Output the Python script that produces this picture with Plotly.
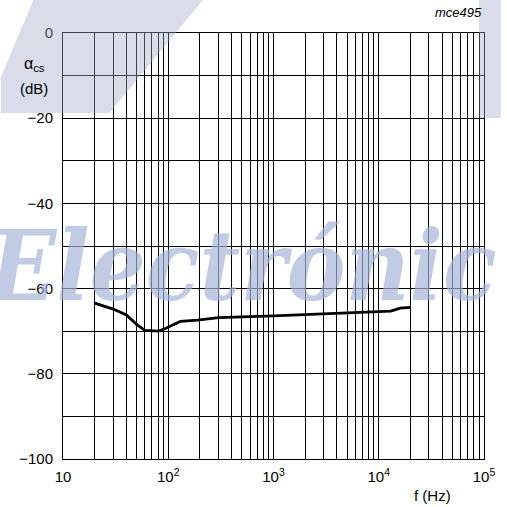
import plotly.graph_objects as go

# Data
freq_hz = [20, 30, 40, 50, 60, 80, 95, 130, 190, 300, 1000, 2000, 5000, 10000, 13000, 16000, 20000]
alpha_cs_db = [-63.4, -64.8, -66.2, -68.4, -69.8, -70.0, -69.3, -67.7, -67.4, -66.8,
               -66.4, -66.1, -65.8, -65.5, -65.3, -64.6, -64.4]

x_tick_vals = [10, 100, 1000, 10000, 100000]
x_tick_text = ["10", "10<sup>2</sup>", "10<sup>3</sup>", "10<sup>4</sup>", "10<sup>5</sup>"]
x_minor_vals = [k * 10 ** d for d in range(1, 5) for k in range(2, 10)]
y_tick_vals = [0, -20, -40, -60, -80, -100]
y_tick_text = ["0", "\u221220", "\u221240", "\u221260", "\u221280", "\u2212100"]

FONT = "Liberation Sans, Arial, sans-serif"

fig = go.Figure()
fig.add_trace(go.Scatter(
    x=freq_hz, y=alpha_cs_db, mode="lines",
    line=dict(color="black", width=2.8),
    showlegend=False, hoverinfo="skip",
))

fig.update_layout(
    width=507, height=507,
    margin=dict(l=63, r=17, t=33, b=48),
    paper_bgcolor="white", plot_bgcolor="white",
    font=dict(family=FONT, size=15, color="black"),
    xaxis=dict(
        type="log", range=[1, 5],
        tickmode="array", tickvals=x_tick_vals, ticktext=x_tick_text,
        showgrid=True, gridcolor="black", gridwidth=1,
        minor=dict(tickmode="array", tickvals=x_minor_vals, showgrid=True,
                   gridcolor="black", gridwidth=1, ticks=""),
        ticks="", showline=True, linecolor="black", linewidth=1, mirror=True,
        zeroline=False, tickfont=dict(size=15), ticklabelstandoff=4,
    ),
    yaxis=dict(
        range=[-100, 0], tickmode="array", tickvals=y_tick_vals, ticktext=y_tick_text,
        showgrid=True, gridcolor="black", gridwidth=1,
        minor=dict(dtick=10, showgrid=True, gridcolor="black", gridwidth=1, ticks=""),
        ticks="", showline=True, linecolor="black", linewidth=1, mirror=True,
        zeroline=False, tickfont=dict(size=15), ticklabelstandoff=6,
    ),
    annotations=[
        dict(text="\u03b1<sub>cs</sub>", xref="paper", yref="paper",
             x=-0.037, y=0.925, xanchor="right", yanchor="middle",
             showarrow=False, font=dict(size=16, color="black")),
        dict(text="(dB)", xref="paper", yref="paper",
             x=-0.030, y=0.869, xanchor="right", yanchor="middle",
             showarrow=False, font=dict(size=15, color="black")),
        dict(text="f (Hz)", xref="paper", yref="paper",
             x=0.877, y=-0.085, xanchor="center", yanchor="middle",
             showarrow=False, font=dict(size=15, color="black")),
        dict(text="<i>mce495</i>", xref="paper", yref="paper",
             x=1.0, y=1.047, xanchor="right", yanchor="middle",
             showarrow=False, font=dict(size=13, color="black")),
        # watermark
        dict(text="Electrónic", xref="paper", yref="paper",
             x=0.425, y=0.455, xanchor="center", yanchor="middle",
             showarrow=False,
             font=dict(family="DejaVu Serif Condensed, DejaVu Serif, serif", size=98,
                       weight=900, style="italic",
                       color="rgba(165,178,215,0.68)")),
    ],
    shapes=[
        dict(type="path", xref="paper", yref="paper", layer="above",
             path="M -0.0703,1.0775 L 0.3326,1.0775 L 0.1101,0.8122 L -0.1475,0.8122 L -0.1475,0.8967 Z",
             fillcolor="rgba(160,170,200,0.4)", line=dict(width=0)),
        dict(type="rect", xref="paper", yref="paper", layer="above",
             x0=0.9883, x1=1.04, y0=0.8005, y1=1.0775,
             fillcolor="rgba(160,170,200,0.4)", line=dict(width=0)),
    ],
)

fig.write_html("out.html", config={"displayModeBar": False},
               post_script="document.body.style.margin='0';")
